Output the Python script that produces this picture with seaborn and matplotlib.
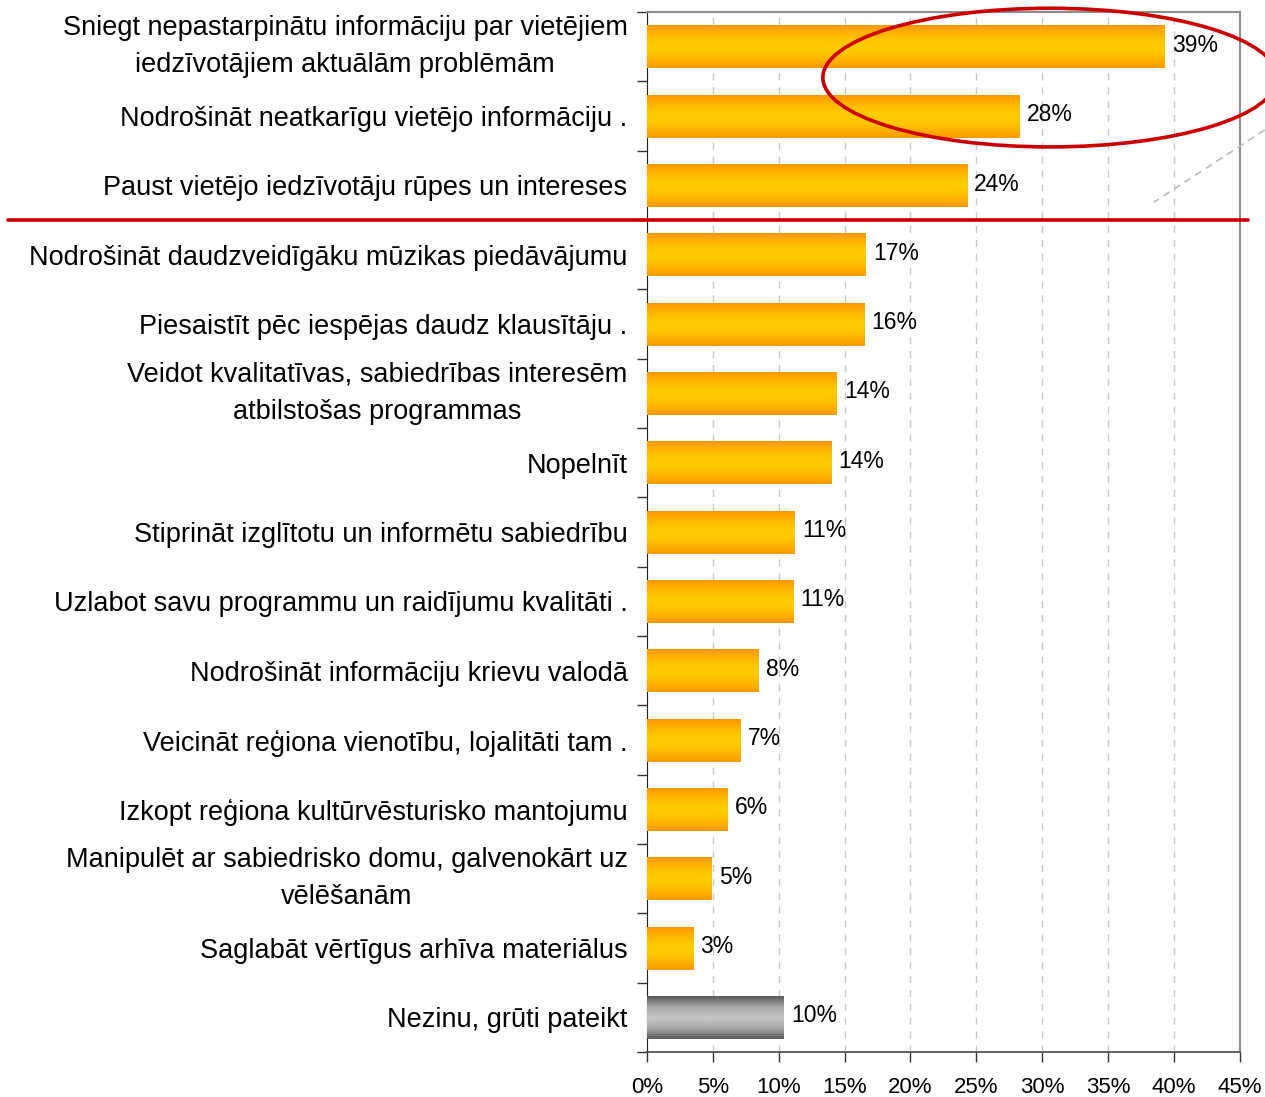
import numpy as np
import pandas as pd
import seaborn as sns
import matplotlib.pyplot as plt
from matplotlib.patches import Ellipse
from matplotlib.ticker import FixedLocator

# %%
# data (share of respondents, %)
categories = [
    "Sniegt nepastarpinātu informāciju par vietējiem\niedzīvotājiem aktuālām problēmām",
    "Nodrošināt neatkarīgu vietējo informāciju .",
    "Paust vietējo iedzīvotāju rūpes un intereses",
    "Nodrošināt daudzveidīgāku mūzikas piedāvājumu",
    "Piesaistīt pēc iespējas daudz klausītāju .",
    "Veidot kvalitatīvas, sabiedrības interesēm\natbilstošas programmas",
    "Nopelnīt",
    "Stiprināt izglītotu un informētu sabiedrību",
    "Uzlabot savu programmu un raidījumu kvalitāti .",
    "Nodrošināt informāciju krievu valodā",
    "Veicināt reģiona vienotību, lojalitāti tam .",
    "Izkopt reģiona kultūrvēsturisko mantojumu",
    "Manipulēt ar sabiedrisko domu, galvenokārt uz\nvēlēšanām",
    "Saglabāt vērtīgus arhīva materiālus",
    "Nezinu, grūti pateikt",
]
values = [39.3, 28.3, 24.3, 16.6, 16.5, 14.4, 14.0, 11.2, 11.1, 8.5, 7.1, 6.1, 4.9, 3.5, 10.4]
value_labels = ["39%", "28%", "24%", "17%", "16%", "14%", "14%", "11%", "11%",
                "8%", "7%", "6%", "5%", "3%", "10%"]
groups = ["answer"] * 14 + ["dont_know"]
x_ticks = [0, 5, 10, 15, 20, 25, 30, 35, 40, 45]
x_ticklabels = ["0%", "5%", "10%", "15%", "20%", "25%", "30%", "35%", "40%", "45%"]

df = pd.DataFrame({"category": categories, "value": values, "group": groups})

# %%
sns.set_style("white")
plt.rcParams["font.family"] = ["Liberation Sans", "DejaVu Sans"]
plt.rcParams["text.color"] = "black"
plt.rcParams["xtick.color"] = "black"
plt.rcParams["ytick.color"] = "black"

fig = plt.figure(figsize=(12.65, 10.97), dpi=100)
ax = fig.add_axes([0.5115, 0.041, 0.4685, 0.948])

sns.barplot(data=df, x="value", y="category", orient="h", width=0.62,
            color="orange", ax=ax, zorder=2)

# gradient fill: dark edges, light middle (like the Excel bars)
grad = np.abs(np.linspace(-1, 1, 64)).reshape(-1, 1)
orange_cmap = sns.blend_palette(["#FFCC00", "#FFC400", "#FFB000", "#FF9900"], as_cmap=True)
gray_cmap = sns.blend_palette(["#C4C4C4", "#A8A8A8", "#5A5A5A"], as_cmap=True)
for patch, grp in zip(ax.patches, df["group"]):
    x0, y0 = patch.get_x(), patch.get_y()
    w, h = patch.get_width(), patch.get_height()
    cmap = gray_cmap if grp == "dont_know" else orange_cmap
    ax.imshow(grad, cmap=cmap, aspect="auto", extent=[x0, x0 + w, y0 + h, y0],
              zorder=3, interpolation="bilinear")
    patch.set_facecolor("none")
    patch.set_edgecolor("none")

# value labels
for i, (v, lab) in enumerate(zip(values, value_labels)):
    ax.text(v + 0.55, i - 0.02, lab, va="center", ha="left", fontsize=16.5,
            color="black", zorder=4)

ax.set_xlim(0, 45)
ax.set_ylim(len(categories) - 0.5, -0.5)
ax.set_xlabel("")
ax.set_ylabel("")

# axes ticks
ax.set_xticks(x_ticks)
ax.set_xticklabels(x_ticklabels, fontsize=16)
ax.tick_params(axis="x", bottom=True, direction="out", length=7, width=1,
               color="#333333", pad=11)
ax.tick_params(axis="y", which="major", left=True, length=0, pad=14, labelsize=19.5)
ax.yaxis.set_minor_locator(FixedLocator(np.arange(-0.5, len(categories), 1)))
ax.tick_params(axis="y", which="minor", left=True, direction="out", length=7,
               width=1, color="#333333")
for t in ax.get_yticklabels():
    t.set_multialignment("center")
    t.set_linespacing(1.55)
    if "\n" in t.get_text():
        t.set_verticalalignment("center")

# dashed vertical gridlines
ax.xaxis.grid(True, linestyle=(0, (5, 5)), color="#C8C8C8", linewidth=1, zorder=0)
ax.set_axisbelow(True)

for side in ["top", "right"]:
    ax.spines[side].set_color("#8C8C8C")
    ax.spines[side].set_linewidth(1.5)
ax.spines["left"].set_color("#222222")
ax.spines["bottom"].set_color("#555555")
ax.spines["bottom"].set_linewidth(1.3)

# highlight: red separator, ellipse around top two, dashed pointer
ax.plot([-48.5, 45.6], [2.5, 2.5], color="#CC0000", linewidth=2.6, clip_on=False, zorder=5)
ax.add_patch(Ellipse((30.6, 0.445), 34.5, 2.0, fill=False, edgecolor="#CC0000",
                     linewidth=2.6, clip_on=False, zorder=5))
ax.plot([46.9, 38.5], [1.20, 2.24], color="#BEBEBE", linestyle=(0, (4, 3)),
        linewidth=1.3, clip_on=False, zorder=5)

fig.savefig("out.png", dpi=100)
